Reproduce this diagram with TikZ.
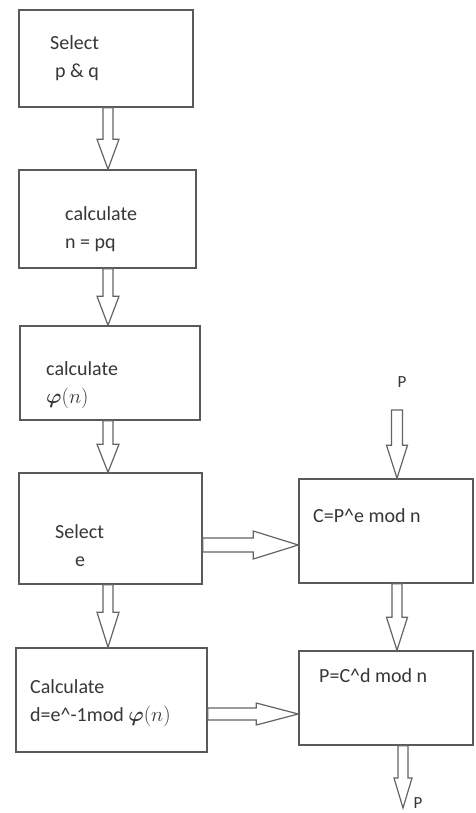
\documentclass[tikz,border=0pt]{standalone}
\usepackage{fontspec}
\setmainfont{Carlito}
\usetikzlibrary{calc}
\definecolor{boxgray}{RGB}{90,90,90}
\definecolor{txtgray}{RGB}{55,55,55}
\definecolor{arrgray}{RGB}{100,100,100}
\newcommand{\phiN}{{\boldmath$\varphi$}$(n)$}
% vertical block arrow: from, to, shaft half width, head half width, head length
\newcommand{\varrow}[5]{%
  \draw[blockarrow] let \p1=(#1), \p2=(#2) in
    ({\x1-#3},\y1) -- ({\x1-#3},{\y2+#5}) -- ({\x1-#4},{\y2+#5}) -- (\x1,\y2)
    -- ({\x1+#4},{\y2+#5}) -- ({\x1+#3},{\y2+#5}) -- ({\x1+#3},\y1) -- cycle;}
% horizontal block arrow
\newcommand{\harrow}[5]{%
  \draw[blockarrow] let \p1=(#1), \p2=(#2) in
    (\x1,{\y1+#3}) -- ({\x2-#5},{\y1+#3}) -- ({\x2-#5},{\y1+#4}) -- (\x2,\y1)
    -- ({\x2-#5},{\y1-#4}) -- ({\x2-#5},{\y1-#3}) -- (\x1,{\y1-#3}) -- cycle;}
\begin{document}
\begin{tikzpicture}[x=1pt,y=-1pt,
  box/.style={draw=boxgray, line width=1.5pt, fill=white, inner sep=0pt},
  lbl/.style={anchor=west, inner sep=0pt, align=left, text=txtgray,
              font=\fontsize{20}{28}\selectfont},
  plbl/.style={inner sep=0pt, text=txtgray, font=\fontsize{17}{20}\selectfont},
  blockarrow/.style={draw=arrgray, line width=1.2pt, fill=white, line join=miter}]
\useasboundingbox[fill=white] (0,0) rectangle (475,813);

% boxes
\node[box, minimum width=174pt, minimum height=97pt]  (b1) at (106,58.5) {};
\node[box, minimum width=177pt, minimum height=98pt]  (b2) at (107.5,219) {};
\node[box, minimum width=180pt, minimum height=94pt]  (b3) at (110,373) {};
\node[box, minimum width=183pt, minimum height=111pt] (b4) at (110.5,528.5) {};
\node[box, minimum width=191pt, minimum height=104pt] (b5) at (111.5,700) {};
\node[box, minimum width=174pt, minimum height=104pt] (bC) at (386,531) {};
\node[box, minimum width=174pt, minimum height=94pt]  (bP) at (386,698) {};

% texts
\node[lbl] (t1) at (50,58) {Select\\\hspace{5pt}p \& q};
\node[lbl] (t2) at (65,229) {calculate\\n = pq};
\node[lbl] (t3) at (46,385) {calculate\\\phiN};
\node[lbl] (t4) at (55,546) {Select\\\hspace{20pt}e};
\node[lbl] (t5) at (30,703.5) {Calculate\\d=e\textasciicircum-1mod \phiN};
\node[lbl] (tC) at (313,516) {C=P\textasciicircum e mod n};
\node[lbl] (tP) at (319,676) {P=C\textasciicircum d mod n};
\node[plbl] (pinl) at (402,382) {P};
\node[plbl] (poutl) at (418,803) {P};

% helper coordinates
\coordinate (colL) at (108,0);
\coordinate (colR) at (397,0);
\coordinate (colR2) at (403,0);
\coordinate (rowA) at (0,545);
\coordinate (rowB) at (0,714);
\coordinate (pin) at (397,410);
\coordinate (pout) at (403,808);

% arrows
\varrow{b1.south -| colL}{b2.north -| colL}{5pt}{11pt}{30pt}
\varrow{b2.south -| colL}{b3.north -| colL}{5pt}{11pt}{29pt}
\varrow{b3.south -| colL}{b4.north -| colL}{5pt}{11pt}{28pt}
\varrow{b4.south -| colL}{b5.north -| colL}{5pt}{11pt}{35pt}
\varrow{pin}{bC.north -| colR}{5.5pt}{10.5pt}{33pt}
\varrow{bC.south -| colR}{bP.north -| colR}{5pt}{10.5pt}{33pt}
\varrow{bP.south -| colR2}{pout}{5pt}{9pt}{30pt}
\harrow{b4.east |- rowA}{bC.west |- rowA}{7pt}{14pt}{45pt}
\harrow{b5.east |- rowB}{bP.west |- rowB}{6pt}{11pt}{42pt}
\end{tikzpicture}
\end{document}
